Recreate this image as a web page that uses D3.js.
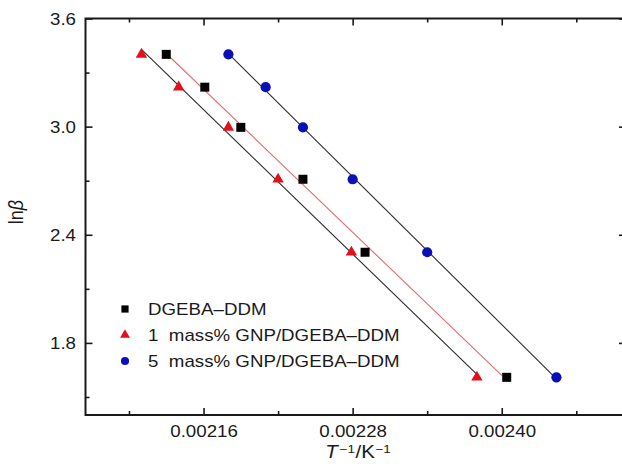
<!DOCTYPE html>
<html>
<head>
<meta charset="utf-8">
<script src="https://cdn.jsdelivr.net/npm/d3@7"></script>
<style>
  html, body { margin: 0; padding: 0; background: #fff; }
  svg { display: block; }
  text { font-family: "Liberation Sans", Arial, Helvetica, sans-serif; fill: #1a1a1a; white-space: pre; }
</style>
</head>
<body>
<svg id="chart" width="622" height="474"></svg>
<script>
// Kissinger plot: ln(heating rate) against reciprocal peak temperature
const lnBeta = [3.401, 3.219, 2.996, 2.708, 2.303, 1.609];          // ln(30, 25, 20, 15, 10, 5)
const invT_DDM  = [0.00213, 0.002161, 0.00219, 0.00224, 0.00229, 0.002404];
const invT_GNP1 = [0.00211, 0.00214, 0.00218, 0.00222, 0.002279, 0.00238];
const invT_GNP5 = [0.00218, 0.00221, 0.00224, 0.00228, 0.00234, 0.002444];

const seriesNames = ["DGEBA\u2013DDM", "1  mass% GNP/DGEBA\u2013DDM", "5  mass% GNP/DGEBA\u2013DDM"];

const xMajorTicks = [0.00216, 0.00228, 0.0024];
const xMinorTicks = [0.0021, 0.00222, 0.00234, 0.00246];
const yMajorTicks = [1.8, 2.4, 3.0, 3.6];
const yMinorTicks = [1.5, 2.1, 2.7, 3.3];

const xDomain = [0.002065, 0.0025];
const yDomain = [1.4, 3.6];

// styling per series
const series = [
  { name: seriesNames[0], x: invT_DDM,  symbol: d3.symbolSquare,   size: 81, legendSize: 52, fill: "#000000", lineColor: "#e06a72" },
  { name: seriesNames[1], x: invT_GNP1, symbol: d3.symbolTriangle, size: 56, legendSize: 42, fill: "#e3101c", lineColor: "#2b2b2b" },
  { name: seriesNames[2], x: invT_GNP5, symbol: d3.symbolCircle,   size: 82, legendSize: 52, fill: "#0a10b8", lineColor: "#2b2b2b" }
];

const plotLeft = 85.5, plotTop = 18.5, plotBottom = 415, plotRight = 626;
const SX = 1.17; // horizontal glyph stretch

const svg = d3.select("#chart");
const x = d3.scaleLinear().domain(xDomain).range([plotLeft, plotRight]);
const y = d3.scaleLinear().domain(yDomain).range([plotBottom, plotTop]);

// fitted lines (least squares) drawn across each series' data span
function fit(xs, ys) {
  const mx = d3.mean(xs), my = d3.mean(ys);
  let sxy = 0, sxx = 0;
  xs.forEach((v, i) => { sxy += (v - mx) * (ys[i] - my); sxx += (v - mx) * (v - mx); });
  const b = sxy / sxx;
  return { a: my - b * mx, b };
}
series.forEach(s => {
  const f = fit(s.x, lnBeta);
  const x0 = d3.min(s.x), x1 = d3.max(s.x);
  svg.append("line")
    .attr("x1", x(x0)).attr("y1", y(f.a + f.b * x0))
    .attr("x2", x(x1)).attr("y2", y(f.a + f.b * x1))
    .attr("stroke", s.lineColor).attr("stroke-width", 1.1);
});

// markers
series.forEach(s => {
  svg.append("g").selectAll("path")
    .data(s.x.map((v, i) => [v, lnBeta[i]]))
    .join("path")
    .attr("d", d3.symbol(s.symbol, s.size))
    .attr("transform", d => `translate(${x(d[0])},${y(d[1])})`)
    .attr("fill", s.fill);
});

// axes: inward ticks on all four sides
function styleAxis(g) {
  g.select(".domain").remove();
  g.selectAll(".tick line").attr("stroke", "#1a1a1a").attr("stroke-width", 1.6);
}
svg.append("g").attr("transform", `translate(0,${plotBottom})`)
  .call(d3.axisBottom(x).tickValues(xMajorTicks).tickSize(-7).tickPadding(14).tickFormat(d3.format(".5f")))
  .call(styleAxis)
  .call(g => g.selectAll("text").attr("font-size", 16).attr("font-family", null).attr("fill", "#1a1a1a")
    .attr("y", 21.7).attr("dy", null).attr("transform", `scale(${SX},1)`));
svg.append("g").attr("transform", `translate(0,${plotBottom})`)
  .call(d3.axisBottom(x).tickValues(xMinorTicks).tickSize(-4).tickFormat(""))
  .call(styleAxis);
svg.append("g").attr("transform", `translate(0,${plotTop})`)
  .call(d3.axisTop(x).tickValues(xMajorTicks).tickSize(-7).tickFormat(""))
  .call(styleAxis);
svg.append("g").attr("transform", `translate(0,${plotTop})`)
  .call(d3.axisTop(x).tickValues(xMinorTicks).tickSize(-4).tickFormat(""))
  .call(styleAxis);

svg.append("g").attr("transform", `translate(${plotLeft},0)`)
  .call(d3.axisLeft(y).tickValues(yMajorTicks).tickSize(-7).tickFormat(d3.format(".1f")))
  .call(styleAxis)
  .call(g => g.selectAll("text").attr("font-size", 16).attr("font-family", null).attr("fill", "#1a1a1a")
    .attr("x", -9.5 / SX).attr("dy", "0.36em").attr("transform", `scale(${SX},1)`));
svg.append("g").attr("transform", `translate(${plotLeft},0)`)
  .call(d3.axisLeft(y).tickValues(yMinorTicks).tickSize(-4).tickFormat(""))
  .call(styleAxis);
svg.append("g").attr("transform", `translate(${plotRight},0)`)
  .call(d3.axisRight(y).tickValues(yMajorTicks).tickSize(-7).tickFormat(""))
  .call(styleAxis);
svg.append("g").attr("transform", `translate(${plotRight},0)`)
  .call(d3.axisRight(y).tickValues(yMinorTicks).tickSize(-4).tickFormat(""))
  .call(styleAxis);

// frame
svg.append("rect")
  .attr("x", plotLeft).attr("y", plotTop)
  .attr("width", plotRight - plotLeft).attr("height", plotBottom - plotTop)
  .attr("fill", "none").attr("stroke", "#1a1a1a").attr("stroke-width", 2);

// axis titles
const xt = svg.append("text")
  .attr("transform", `translate(358,458) scale(${SX},1)`)
  .attr("text-anchor", "middle").attr("font-size", 17.5);
xt.append("tspan").attr("font-style", "italic").text("T");
xt.append("tspan").attr("font-size", 11.5).attr("dx", 1.5).attr("dy", -5.5).text("\u22121");
xt.append("tspan").attr("dx", 0.5).attr("dy", 5.5).text("/K");
xt.append("tspan").attr("font-size", 11.5).attr("dx", 0.5).attr("dy", -5.5).text("\u22121");

const yt = svg.append("text")
  .attr("transform", `translate(23,212) rotate(-90) scale(1,${SX})`)
  .attr("text-anchor", "middle").attr("font-size", 18);
yt.append("tspan").text("ln");
yt.append("tspan").attr("font-style", "italic").text("\u03b2");

// legend
const legendRows = [309, 335, 361];
series.forEach((s, i) => {
  const ly = legendRows[i];
  svg.append("path")
    .attr("d", d3.symbol(s.symbol, s.legendSize))
    .attr("transform", `translate(125,${ly})`)
    .attr("fill", s.fill);
  svg.append("text")
    .attr("transform", `translate(148,${ly + 6}) scale(${SX},1)`)
    .attr("font-size", 16)
    .text(s.name);
});
</script>
</body>
</html>
